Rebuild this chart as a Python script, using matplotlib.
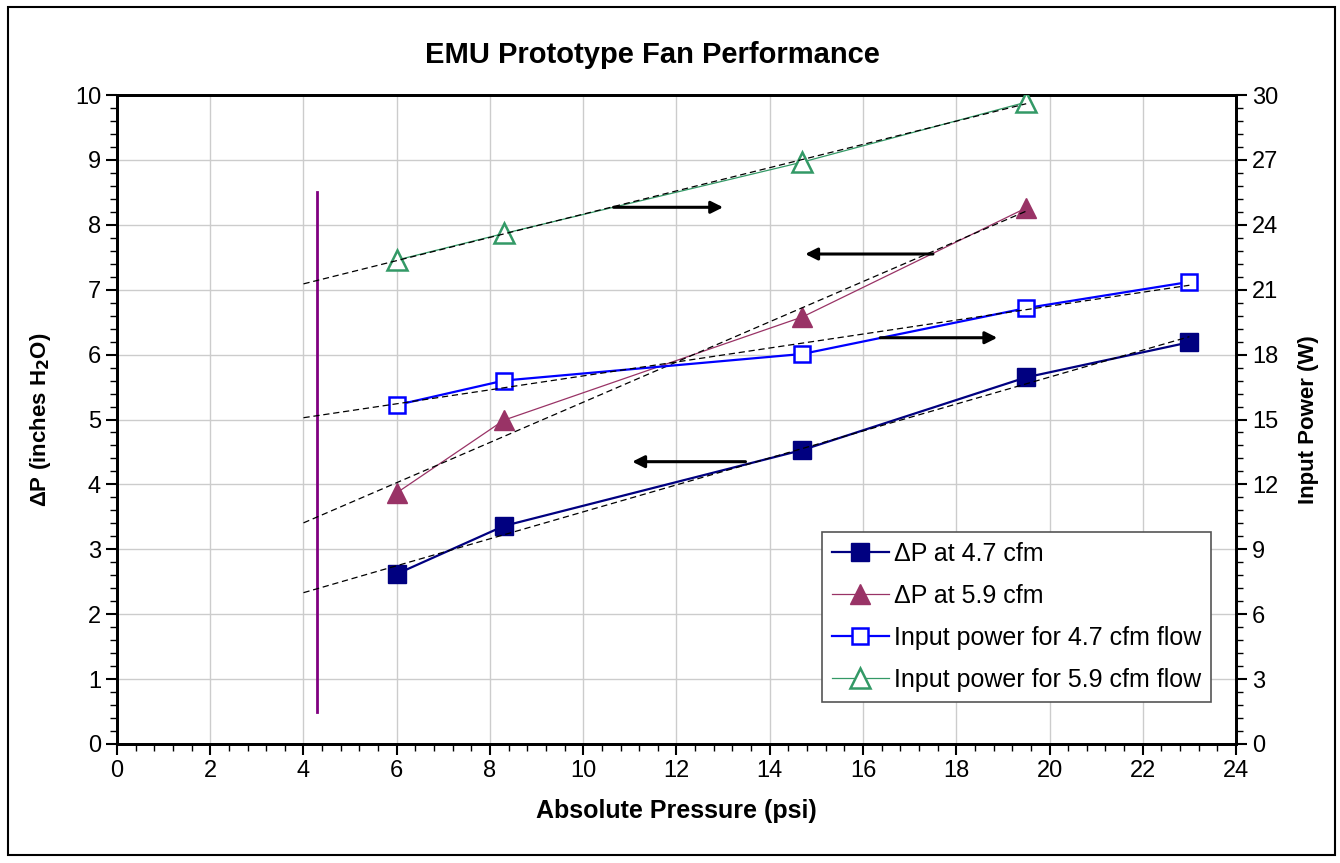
import numpy as np
import matplotlib.pyplot as plt
from matplotlib.ticker import MultipleLocator
from matplotlib.patches import Rectangle

plt.rcParams['font.family'] = ['Liberation Sans', 'DejaVu Sans']

# absolute pressure (psi)
x_47 = [6.0, 8.3, 14.7, 19.5, 23.0]
x_59 = [6.0, 8.3, 14.7, 19.5]

# pressure rise (inches H2O), left axis
dp_47 = [2.62, 3.36, 4.53, 5.65, 6.19]
dp_59 = [3.87, 4.99, 6.58, 8.26]

# input power (W), right axis
pw_47 = [15.67, 16.8, 18.03, 20.15, 21.36]
pw_59 = [22.37, 23.6, 26.9, 29.67]

trend_start = 4.0
marker_x = 4.3
marker_y = [0.5, 8.5]

# arrows pointing to the axis each curve belongs to: (x_from, x_to, y on left axis)
arrows = [(10.65, 13.0, 8.27), (17.5, 14.76, 7.55),
          (13.48, 11.05, 4.35), (16.37, 18.88, 6.26)]

fig = plt.figure(figsize=(13.4, 8.63), dpi=100)
ax = fig.add_axes([0.0873, 0.1379, 0.8351, 0.752])
ax2 = ax.twinx()

ax.set_xlim(0, 24)
ax.set_ylim(0, 10)
ax2.set_ylim(0, 30)

ax.grid(True, which='major', color='#cccccc', lw=1)
ax.set_axisbelow(True)

l1, = ax.plot(x_47, dp_47, color='#000080', lw=1.6, marker='s', ms=13,
              mfc='#000080', mec='#000080', label='ΔP at 4.7 cfm', zorder=3)
l2, = ax.plot(x_59, dp_59, color='#993366', lw=0.9, marker='^', ms=15,
              mfc='#993366', mec='#993366', label='ΔP at 5.9 cfm', zorder=3)
l3, = ax2.plot(x_47, pw_47, color='#0000ff', lw=1.6, marker='s', ms=12,
               mfc='white', mec='#0000ff', mew=1.8,
               label='Input power for 4.7 cfm flow', zorder=3)
l4, = ax2.plot(x_59, pw_59, color='#339966', lw=0.9, marker='^', ms=14,
               mfc='white', mec='#339966', mew=1.8,
               label='Input power for 5.9 cfm flow', zorder=3)

# linear trend lines
for axis, xs, ys in [(ax, x_47, dp_47), (ax, x_59, dp_59),
                     (ax2, x_47, pw_47), (ax2, x_59, pw_59)]:
    k, b = np.polyfit(xs, ys, 1)
    xx = np.array([trend_start, max(xs)])
    axis.plot(xx, k * xx + b, color='black', lw=0.9, dashes=(5, 3), zorder=4)

ax.plot([marker_x, marker_x], marker_y, color='#800080', lw=2, zorder=3)

for x0, x1, y in arrows:
    ax2.annotate('', xy=(x1, y * 3), xytext=(x0, y * 3),
                 arrowprops=dict(arrowstyle='-|>', color='black', lw=2.2,
                                 mutation_scale=18, shrinkA=0, shrinkB=0),
                 zorder=5)

ax.xaxis.set_major_locator(MultipleLocator(2))
ax.xaxis.set_minor_locator(MultipleLocator(0.4))
ax.yaxis.set_major_locator(MultipleLocator(1))
ax.yaxis.set_minor_locator(MultipleLocator(0.2))
ax2.yaxis.set_major_locator(MultipleLocator(3))
ax2.yaxis.set_minor_locator(MultipleLocator(0.6))

for a in (ax, ax2):
    a.tick_params(which='major', direction='out', length=8, width=1.5,
                  labelsize=17, color='black')
    a.tick_params(which='minor', direction='out', length=5, width=1,
                  color='black')
    for s in a.spines.values():
        s.set_linewidth(2)
        s.set_color('black')

ax.set_xlabel('Absolute Pressure (psi)', fontsize=18, fontweight='bold', labelpad=12)
ax.set_ylabel('ΔP (inches H$_\\mathbf{2}$O)', fontsize=16, fontweight='bold', labelpad=16)
ax2.set_ylabel('Input Power (W)', fontsize=16, fontweight='bold', labelpad=14)
fig.text(0.487, 0.936, 'EMU Prototype Fan Performance', fontsize=21,
         fontweight='bold', ha='center', va='center')

leg = ax2.legend(handles=[l1, l2, l3, l4], loc='lower right',
                 bbox_to_anchor=(0.978, 0.065), fontsize=18, frameon=True,
                 fancybox=False, edgecolor='#555555', framealpha=1,
                 handlelength=2.3, handletextpad=0.2, labelspacing=0.72,
                 borderpad=0.4, borderaxespad=0)
leg.get_frame().set_linewidth(1.2)

fig.patches.append(Rectangle((0.006, 0.009), 0.99, 0.983, transform=fig.transFigure,
                             fill=False, edgecolor='black', lw=1.5))

fig.savefig('out.png', dpi=100)
